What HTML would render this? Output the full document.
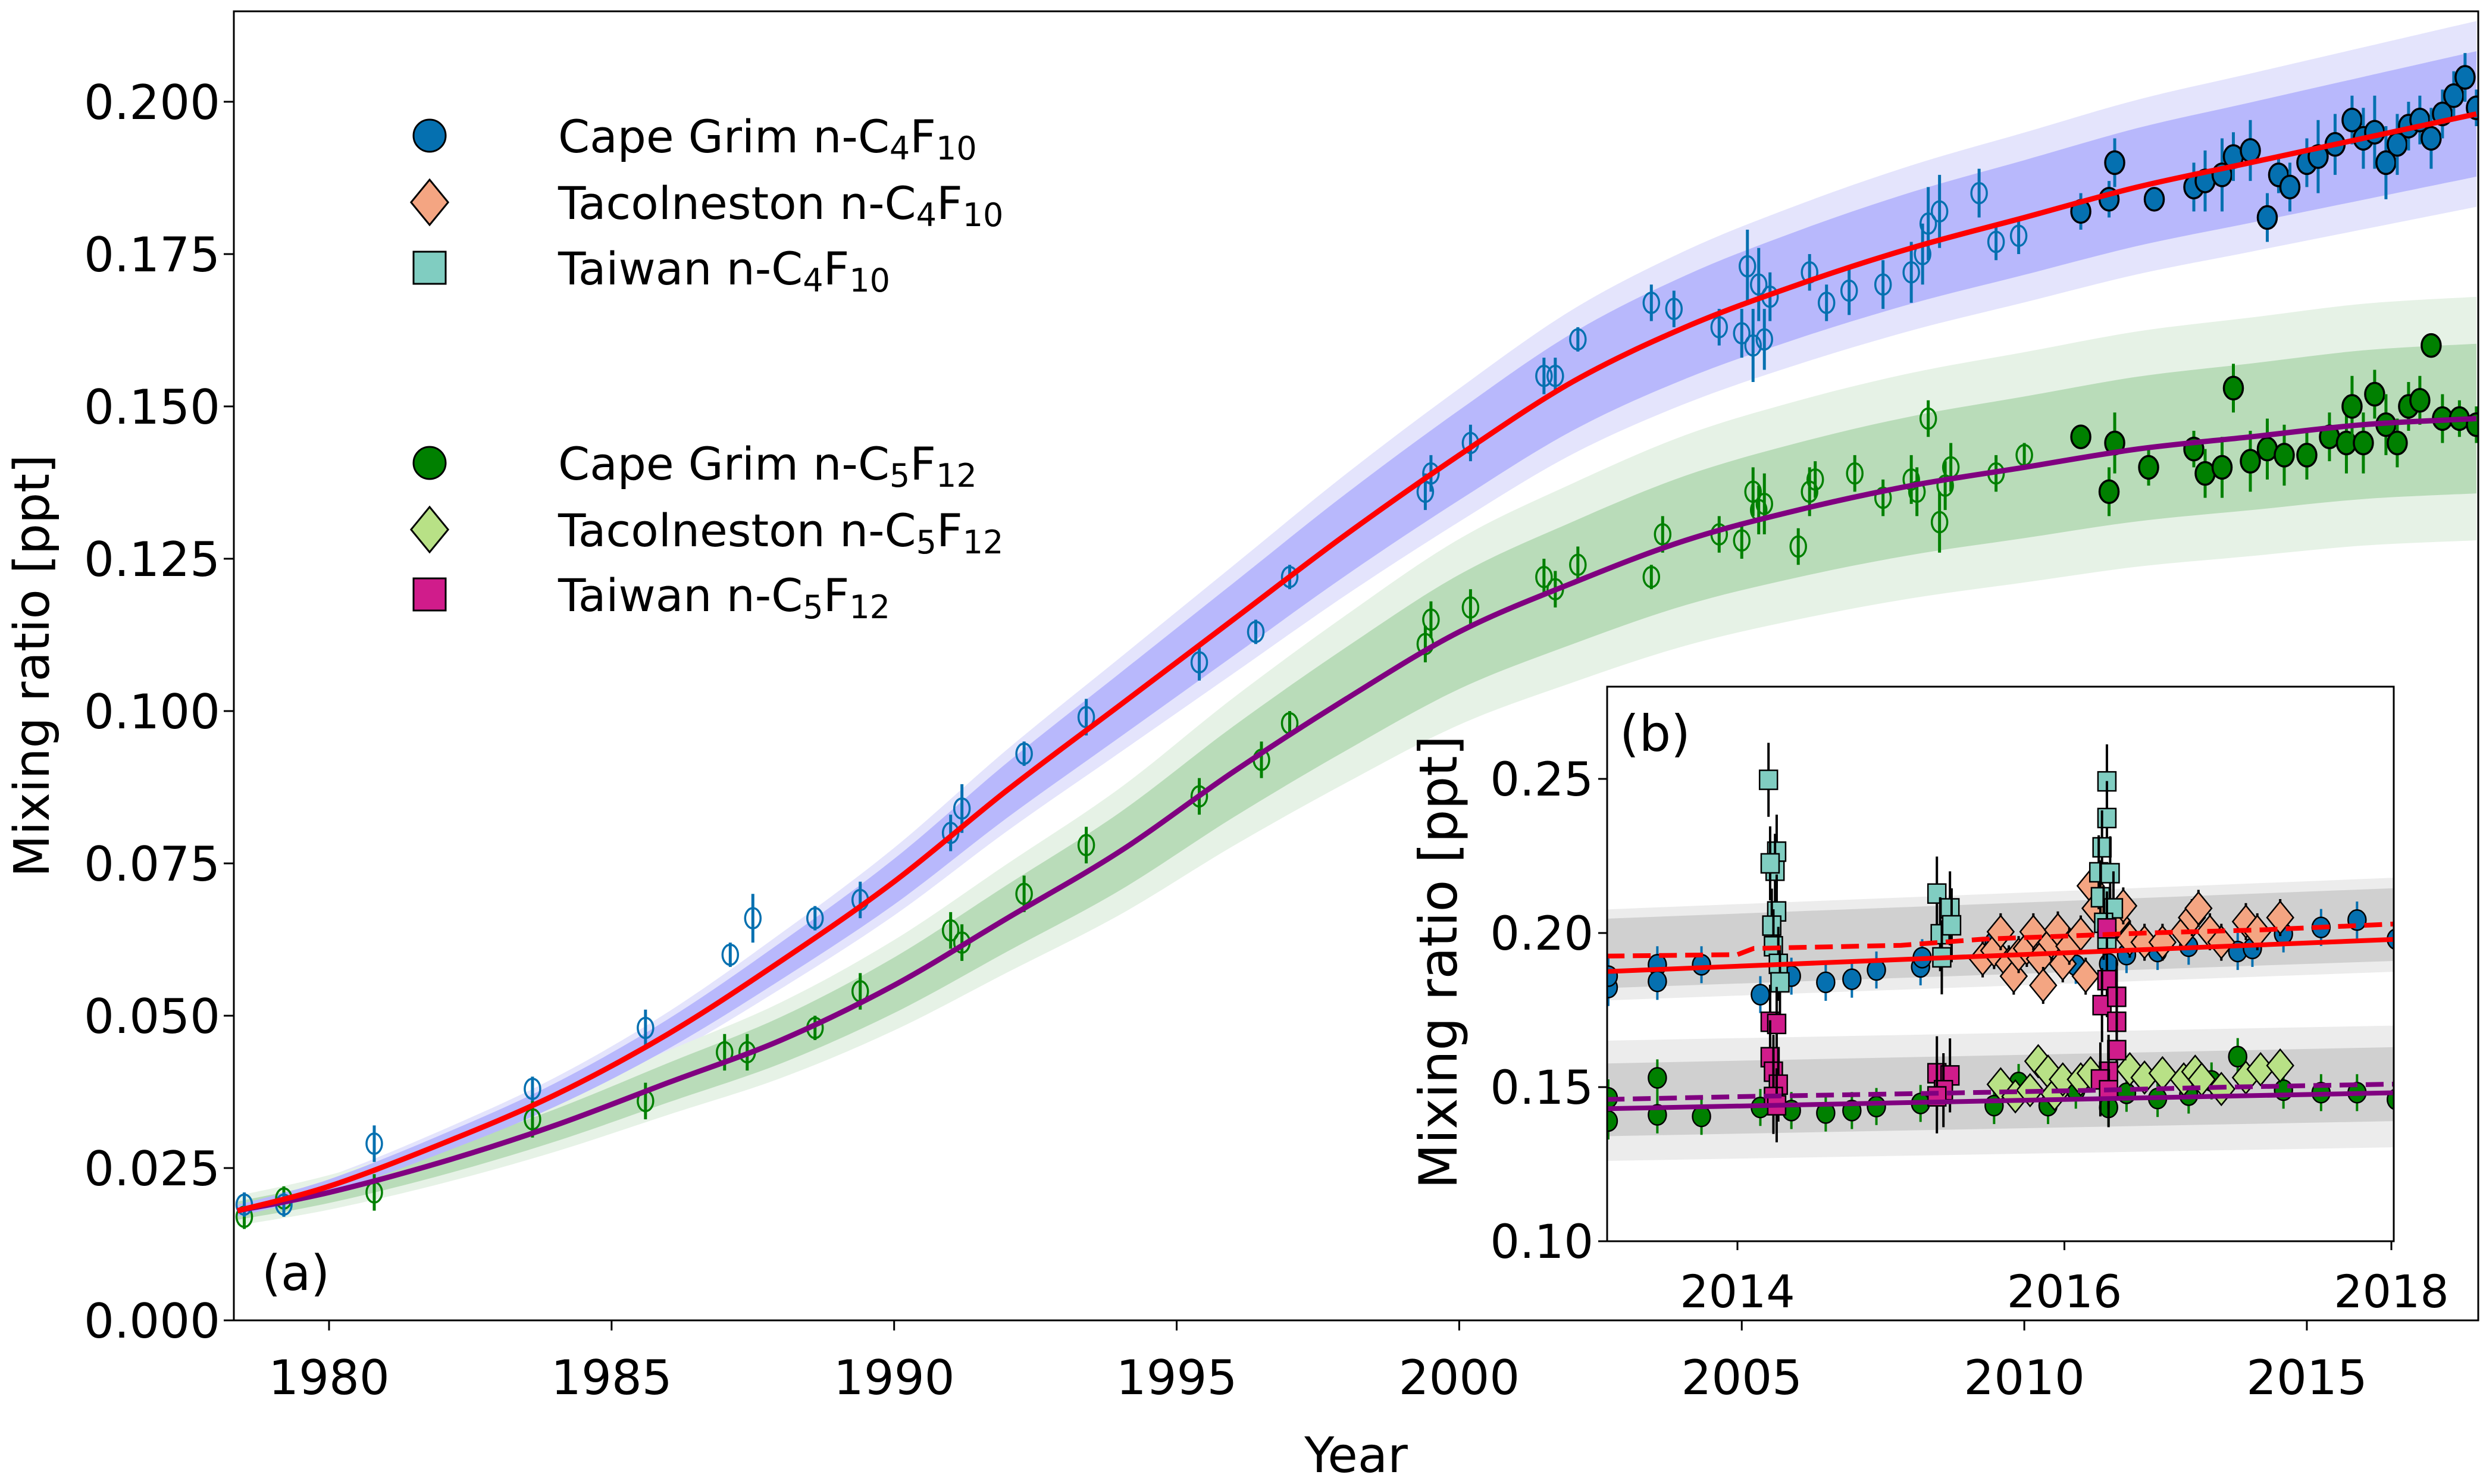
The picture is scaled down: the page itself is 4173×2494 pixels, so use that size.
<!DOCTYPE html>
<html><head><meta charset="utf-8">
<style>
html,body{margin:0;padding:0;background:#fff;}
svg{display:block;font-family:"DejaVu Sans","Liberation Sans",sans-serif;}
</style></head>
<body>
<svg id="chart" width="4173" height="2494" viewBox="0 0 4173 2494" xmlns="http://www.w3.org/2000/svg">
<defs>
<clipPath id="clipMain"><rect x="393" y="19" width="3772" height="2200"/></clipPath>
<clipPath id="clipIn"><rect x="2701" y="1154" width="1322" height="932"/></clipPath>
</defs>
<rect x="0" y="0" width="4173" height="2494" fill="#fff"/>
<g id="main"></g>
<g id="legend"></g>
<g id="inset"></g>
</svg>
<script>
// ===== Main chart data =====
const curveYears = [1978.38,1980,1982,1984,1986,1988,1990,1992,1994,1996,1998,2000,2002,2004,2006,2008,2010,2012,2014,2016,2018];
const c4Model = [0.018,0.022,0.029,0.037,0.047,0.059,0.072,0.087,0.101,0.115,0.129,0.142,0.154,0.163,0.170,0.176,0.181,0.186,0.190,0.194,0.198];
const c5Model = [0.018,0.021,0.026,0.032,0.039,0.046,0.055,0.066,0.077,0.090,0.102,0.113,0.121,0.128,0.133,0.137,0.140,0.143,0.145,0.147,0.148];
const xTicks = [1980,1985,1990,1995,2000,2005,2010,2015];
const yTicks = [0,0.025,0.05,0.075,0.1,0.125,0.15,0.175,0.2];
const yTickLabels = ["0.000","0.025","0.050","0.075","0.100","0.125","0.150","0.175","0.200"];

const c4Years = [1978.5,1979.2,1980.8,1983.6,1985.6,1987.1,1987.5,1988.6,1989.4,1991.0,1991.2,1992.3,1993.4,1995.4,1996.4,1997.0,1999.4,1999.5,2000.2,2001.5,2001.7,2002.1,2003.4,2003.8,2004.6,2005.0,2005.1,2005.2,2005.3,2005.4,2005.5,2006.2,2006.5,2006.9,2007.5,2008.0,2008.2,2008.3,2008.5,2009.2,2009.5,2009.9,
 2011.0,2011.5,2011.6,2012.3,2013.0,2013.2,2013.5,2013.7,2014.0,2014.3,2014.5,2014.7,2015.0,2015.2,2015.5,2015.8,2016.0,2016.2,2016.4,2016.6,2016.8,2017.0,2017.2,2017.4,2017.6,2017.8,2018.0];
const c4Vals = [0.019,0.019,0.029,0.038,0.048,0.060,0.066,0.066,0.069,0.080,0.084,0.093,0.099,0.108,0.113,0.122,0.136,0.139,0.144,0.155,0.155,0.161,0.167,0.166,0.163,0.162,0.173,0.160,0.170,0.161,0.168,0.172,0.167,0.169,0.170,0.172,0.175,0.180,0.182,0.185,0.177,0.178,
 0.182,0.184,0.190,0.184,0.186,0.187,0.188,0.191,0.192,0.181,0.188,0.186,0.190,0.191,0.193,0.197,0.194,0.195,0.190,0.193,0.196,0.197,0.194,0.198,0.201,0.204,0.199];
const c4Errs = [0.002,0.002,0.003,0.002,0.003,0.002,0.004,0.002,0.003,0.003,0.004,0.002,0.003,0.003,0.002,0.002,0.003,0.003,0.003,0.003,0.003,0.002,0.003,0.003,0.003,0.004,0.006,0.006,0.006,0.005,0.004,0.003,0.003,0.004,0.004,0.005,0.005,0.006,0.006,0.004,0.003,0.003,
 0.003,0.003,0.004,0.002,0.004,0.005,0.006,0.004,0.005,0.004,0.003,0.004,0.004,0.006,0.005,0.004,0.005,0.006,0.006,0.005,0.004,0.004,0.005,0.004,0.004,0.004,0.003];
const c4Filled = 42; // index from which markers are filled

const c5Years = [1978.5,1979.2,1980.8,1983.6,1985.6,1987.0,1987.4,1988.6,1989.4,1991.0,1991.2,1992.3,1993.4,1995.4,1996.5,1997.0,1999.4,1999.5,2000.2,2001.5,2001.7,2002.1,2003.4,2003.6,2004.6,2005.0,2005.2,2005.3,2005.4,2006.0,2006.2,2006.3,2007.0,2007.5,2008.0,2008.1,2008.3,2008.5,2008.6,2008.7,2009.5,2010.0,
 2011.0,2011.5,2011.6,2012.2,2013.0,2013.2,2013.5,2013.7,2014.0,2014.3,2014.6,2015.0,2015.4,2015.7,2015.8,2016.0,2016.2,2016.4,2016.6,2016.8,2017.0,2017.2,2017.4,2017.7,2018.0];
const c5Vals = [0.017,0.020,0.021,0.033,0.036,0.044,0.044,0.048,0.054,0.064,0.062,0.070,0.078,0.086,0.092,0.098,0.111,0.115,0.117,0.122,0.120,0.124,0.122,0.129,0.129,0.128,0.136,0.133,0.134,0.127,0.136,0.138,0.139,0.135,0.138,0.136,0.148,0.131,0.137,0.140,0.139,0.142,
 0.145,0.136,0.144,0.140,0.143,0.139,0.140,0.153,0.141,0.143,0.142,0.142,0.145,0.144,0.150,0.144,0.152,0.147,0.144,0.150,0.151,0.160,0.148,0.148,0.147];
const c5Errs = [0.002,0.002,0.003,0.003,0.003,0.003,0.003,0.002,0.003,0.003,0.003,0.003,0.003,0.003,0.003,0.002,0.003,0.003,0.003,0.003,0.003,0.003,0.002,0.003,0.003,0.003,0.004,0.004,0.005,0.003,0.004,0.003,0.003,0.003,0.004,0.004,0.003,0.005,0.004,0.004,0.003,0.002,
 0.002,0.004,0.005,0.003,0.003,0.004,0.005,0.004,0.005,0.005,0.005,0.004,0.004,0.005,0.005,0.005,0.004,0.005,0.004,0.004,0.004,0.002,0.004,0.003,0.003];
const c5Filled = 42;

// ===== Inset data =====
const inXTicks = [2014,2016,2018];
const inYTicks = [0.10,0.15,0.20,0.25];
const inYTickLabels = ["0.10","0.15","0.20","0.25"];
const lineYears = [2013.2,2018.05];
const redSolid = [0.1875,0.198];
const purpleSolid = [0.1430,0.1482];
const redDashYears = [2013.2,2014.0,2014.1,2015.0,2015.5,2016.5,2017.2,2018.05];
const redDashVals = [0.1925,0.193,0.195,0.196,0.198,0.200,0.201,0.203];
const purpDashYears = [2013.2,2014.1,2015.2,2016.2,2017.0,2018.05];
const purpDashVals = [0.146,0.147,0.148,0.149,0.150,0.151];
const bandUpLightLo = [0.178,0.1875], bandUpLightHi = [0.2075,0.218];
const bandUpDarkLo = [0.182,0.191], bandUpDarkHi = [0.2045,0.2146];
const bandLoLightLo = [0.126,0.1305], bandLoLightHi = [0.165,0.170];
const bandLoDarkLo = [0.134,0.139], bandLoDarkHi = [0.1576,0.163];

const cgC4Years = [2013.21,2013.21,2013.51,2013.51,2013.78,2014.14,2014.33,2014.54,2014.70,2014.85,2015.12,2015.13,2015.57,2016.07,2016.27,2016.38,2016.57,2016.76,2017.06,2017.15,2017.34,2017.57,2017.79,2018.03];
const cgC4Vals = [0.1823,0.186,0.1897,0.1843,0.1897,0.180,0.186,0.184,0.185,0.188,0.189,0.192,0.197,0.1895,0.190,0.193,0.194,0.1957,0.194,0.195,0.1997,0.2018,0.2042,0.198];
const cgC5Years = [2013.21,2013.21,2013.51,2013.51,2013.78,2014.14,2014.33,2014.54,2014.70,2014.85,2015.12,2015.57,2015.72,2015.90,2016.07,2016.27,2016.38,2016.57,2016.76,2016.90,2017.06,2017.34,2017.57,2017.79,2018.03];
const cgC5Vals = [0.1465,0.139,0.153,0.141,0.1405,0.1434,0.1424,0.1416,0.1424,0.1437,0.1447,0.144,0.1515,0.144,0.149,0.1434,0.148,0.1463,0.1474,0.152,0.1599,0.149,0.1482,0.1482,0.146];
const taC4Years = [2015.50,2015.57,2015.61,2015.66,2015.69,2015.72,2015.77,2015.81,2015.85,2015.87,2015.92,2015.96,2015.99,2016.03,2016.10,2016.13,2016.16,2016.19,2016.32,2016.36,2016.40,2016.49,2016.60,2016.73,2016.78,2016.82,2016.89,2016.96,2017.11,2017.18,2017.32];
const taC4Vals = [0.1916,0.1943,0.2004,0.190,0.186,0.193,0.195,0.2004,0.1916,0.183,0.197,0.201,0.190,0.1957,0.1997,0.186,0.2153,0.208,0.204,0.2088,0.198,0.197,0.197,0.2004,0.205,0.208,0.2004,0.197,0.2037,0.2004,0.205];
const taC5Years = [2015.61,2015.70,2015.79,2015.84,2015.90,2015.94,2015.99,2016.10,2016.16,2016.40,2016.49,2016.60,2016.73,2016.80,2016.84,2016.96,2017.11,2017.20,2017.32];
const taC5Vals = [0.1509,0.147,0.149,0.1584,0.155,0.1478,0.1525,0.1525,0.1545,0.1558,0.1531,0.1545,0.1525,0.155,0.1525,0.1494,0.1531,0.1558,0.157];
const twC4Years = [2014.19,2014.24,2014.23,2014.20,2014.24,2014.21,2014.22,2014.25,2014.26,2015.22,2015.24,2015.25,2015.30,2015.31,2016.26,2016.26,2016.23,2016.21,2016.28,2016.22,2016.30,2016.24,2016.26];
const twC4Vals = [0.2497,0.2264,0.2202,0.2226,0.207,0.2024,0.1957,0.190,0.184,0.2128,0.1996,0.1921,0.208,0.2025,0.2492,0.2373,0.2278,0.2197,0.2194,0.2116,0.208,0.2033,0.198];
const twC5Years = [2014.20,2014.24,2014.20,2014.22,2014.25,2014.22,2014.24,2015.22,2015.30,2015.26,2015.22,2016.26,2016.26,2016.23,2016.32,2016.32,2016.32,2016.27,2016.22,2016.27];
const twC5Vals = [0.1712,0.1705,0.1597,0.155,0.1508,0.1468,0.1441,0.1545,0.1538,0.149,0.147,0.2015,0.1847,0.1766,0.1793,0.1712,0.162,0.155,0.1525,0.149];

// ===== helpers =====
const NS = "http://www.w3.org/2000/svg";
function mk(parent, tag, attrs, text){
  const e = document.createElementNS(NS, tag);
  for (const k in attrs) e.setAttribute(k, attrs[k]);
  if (text !== undefined) e.textContent = text;
  parent.appendChild(e); return e;
}
const X = yr => 553 + (yr - 1980) * 94.97;
const Y = v => 2219 - v / 0.025 * 256;
const XI = yr => 2920 + (yr - 2014) * 274.75;
const YI = v => 2086 - (v - 0.10) / 0.05 * 259;

function smoothPath(xs, ys){
  let d = "M" + xs[0].toFixed(1) + "," + ys[0].toFixed(1);
  for (let i = 0; i < xs.length - 1; i++){
    const x0 = xs[Math.max(i-1,0)], y0 = ys[Math.max(i-1,0)];
    const x1 = xs[i], y1 = ys[i], x2 = xs[i+1], y2 = ys[i+1];
    const x3 = xs[Math.min(i+2,xs.length-1)], y3 = ys[Math.min(i+2,ys.length-1)];
    const c1x = x1 + (x2 - x0)/6, c1y = y1 + (y2 - y0)/6;
    const c2x = x2 - (x3 - x1)/6, c2y = y2 - (y3 - y1)/6;
    d += " C" + c1x.toFixed(1) + "," + c1y.toFixed(1) + " " + c2x.toFixed(1) + "," + c2y.toFixed(1) + " " + x2.toFixed(1) + "," + y2.toFixed(1);
  }
  return d;
}
function bandPath(years, vals, f){
  const xs = years.map(X);
  const hi = vals.map(v => Y(v*(1+f)));
  const lo = vals.map(v => Y(v*(1-f)));
  let d = smoothPath(xs, hi);
  const rx = xs.slice().reverse(), rl = lo.slice().reverse();
  d += " L" + rx[0].toFixed(1) + "," + rl[0].toFixed(1) + smoothPath(rx, rl).replace(/^M[^ ]+/, "") + " Z";
  return d;
}

// ===== Main plot =====
const main = document.getElementById("main");
const plot = mk(main, "g", {"clip-path":"url(#clipMain)"});



let e;
e = mk(plot, "path", {d: bandPath(curveYears, c4Model, 0.077), fill:"#e4e4fc"});


e = mk(plot, "path", {d: bandPath(curveYears, c5Model, 0.135), fill:"#e6f2e6"});


e = mk(plot, "path", {d: bandPath(curveYears, c5Model, 0.083), fill:"#b9dcb9"});


e = mk(plot, "path", {d: bandPath(curveYears, c4Model, 0.052), fill:"#b8b8fc"});



function drawObs(years, vals, errs, filledFrom, color, name){
  const g = mk(plot, "g", {});
  
  
  years.forEach((yr, i) => {
    const cx = X(yr), cy = Y(vals[i]);
    const l = mk(g, "line", {x1:cx, x2:cx, y1:Y(vals[i]+errs[i]), y2:Y(vals[i]-errs[i]), stroke:color, "stroke-width":5});
    
    
    let m;
    if (i >= filledFrom) m = mk(g, "ellipse", {cx:cx, cy:cy, rx:16, ry:19, fill:color, stroke:"#000", "stroke-width":3.5});
    else m = mk(g, "ellipse", {cx:cx, cy:cy, rx:13, ry:17, fill:"none", stroke:color, "stroke-width":3.5});
    
    
  });
}
drawObs(c5Years, c5Vals, c5Errs, c5Filled, "#008000", "c5f12-observations");
drawObs(c4Years, c4Vals, c4Errs, c4Filled, "#0570b0", "c4f10-observations");

e = mk(plot, "path", {d: smoothPath(curveYears.map(X), c5Model.map(Y)), fill:"none", stroke:"#800080", "stroke-width":9});


e = mk(plot, "path", {d: smoothPath(curveYears.map(X), c4Model.map(Y)), fill:"none", stroke:"#ff0000", "stroke-width":9});



// axes frame
e = mk(main, "rect", {x:393, y:19, width:3772, height:2200, fill:"none", stroke:"#000", "stroke-width":3});



xTicks.forEach(t => {
  const x = X(t);
  const l = mk(main, "line", {x1:x, x2:x, y1:2219, y2:2236, stroke:"#000", "stroke-width":3});
  
  
  const tx = mk(main, "text", {x:x, y:2343, "font-size":80, "text-anchor":"middle"}, String(t));
  
  
});
yTicks.forEach((t, i) => {
  const y = Y(t);
  const l = mk(main, "line", {x1:376, x2:393, y1:y, y2:y, stroke:"#000", "stroke-width":3});
  
  
  const tx = mk(main, "text", {x:370, y:y+29, "font-size":80, "text-anchor":"end"}, yTickLabels[i]);
  
  
});
e = mk(main, "text", {x:2279, y:2474, "font-size":82, "text-anchor":"middle"}, "Year");


e = mk(main, "text", {x:0, y:0, "font-size":82, "text-anchor":"middle", transform:"translate(82,1119) rotate(-90)"}, "Mixing ratio [ppt]");


e = mk(main, "text", {x:440, y:2168, "font-size":82}, "(a)");



// ===== Legend =====
const leg = document.getElementById("legend");
function diamond(g, cx, cy, r, fill, sw){
  return mk(g, "polygon", {points:`${cx},${cy-r} ${cx+r*0.82},${cy} ${cx},${cy+r} ${cx-r*0.82},${cy}`, fill:fill, stroke:"#000", "stroke-width":sw});
}
const legItems = [
  {y:228, shape:"c", fill:"#0570b0", label:"Cape Grim n-C", sub1:"4", mid:"F", sub2:"10", name:"legend-cape-grim-c4f10"},
  {y:340, shape:"d", fill:"#f4a582", label:"Tacolneston n-C", sub1:"4", mid:"F", sub2:"10", name:"legend-tacolneston-c4f10"},
  {y:450, shape:"s", fill:"#80cdc1", label:"Taiwan n-C", sub1:"4", mid:"F", sub2:"10", name:"legend-taiwan-c4f10"},
  {y:778, shape:"c", fill:"#008000", label:"Cape Grim n-C", sub1:"5", mid:"F", sub2:"12", name:"legend-cape-grim-c5f12"},
  {y:890, shape:"d", fill:"#b8e186", label:"Tacolneston n-C", sub1:"5", mid:"F", sub2:"12", name:"legend-tacolneston-c5f12"},
  {y:999, shape:"s", fill:"#d01c8b", label:"Taiwan n-C", sub1:"5", mid:"F", sub2:"12", name:"legend-taiwan-c5f12"}
];
legItems.forEach(it => {
  const g = mk(leg, "g", {});
  
  
  let m;
  if (it.shape === "c") m = mk(g, "circle", {cx:722, cy:it.y, r:27, fill:it.fill, stroke:"#000", "stroke-width":3});
  else if (it.shape === "d") m = diamond(g, 722, it.y, 38, it.fill, 3);
  else m = mk(g, "rect", {x:695, y:it.y-27, width:54, height:54, fill:it.fill, stroke:"#000", "stroke-width":3});
  
  
  const t = mk(g, "text", {x:938, y:it.y+28, "font-size":76});
  
  
  t.appendChild(document.createTextNode(it.label));
  mk(t, "tspan", {"font-size":54, dy:12}, it.sub1);
  mk(t, "tspan", {dy:-12}, it.mid);
  mk(t, "tspan", {"font-size":54, dy:12}, it.sub2);
});

// ===== Inset =====
const ins = document.getElementById("inset");
e = mk(ins, "rect", {x:2701, y:1154, width:1322, height:932, fill:"#fff"});


const ip = mk(ins, "g", {"clip-path":"url(#clipIn)"});


function ibBand(lo, hi, fill, name){
  const x0 = XI(lineYears[0]) - 20, x1 = XI(lineYears[1]);
  const p = mk(ip, "polygon", {points:`${x0},${YI(hi[0])} ${x1},${YI(hi[1])} ${x1},${YI(lo[1])} ${x0},${YI(lo[0])}`, fill:fill});
  
  
}
ibBand(bandUpLightLo, bandUpLightHi, "#ececec", "inset-c4f10-band-outer");
ibBand(bandUpDarkLo, bandUpDarkHi, "#d0d0d0", "inset-c4f10-band-inner");
ibBand(bandLoLightLo, bandLoLightHi, "#ececec", "inset-c5f12-band-outer");
ibBand(bandLoDarkLo, bandLoDarkHi, "#d0d0d0", "inset-c5f12-band-inner");

function iPts(years, vals, shape, fill, errColor, err, name){
  const g = mk(ip, "g", {});
  
  
  years.forEach((yr, i) => {
    const cx = XI(yr), cy = YI(vals[i]);
    const l = mk(g, "line", {x1:cx, x2:cx, y1:YI(vals[i]+err), y2:YI(vals[i]-err), stroke:errColor, "stroke-width":4});
    
    
    let m;
    if (shape === "c") m = mk(g, "ellipse", {cx:cx, cy:cy, rx:15, ry:17, fill:fill, stroke:"#000", "stroke-width":2.5});
    else if (shape === "d") m = diamond(g, cx, cy, 27, fill, 2.5);
    else m = mk(g, "rect", {x:cx-15, y:cy-16, width:30, height:32, fill:fill, stroke:"#000", "stroke-width":2.5});
    
    
  });
}
iPts(cgC5Years, cgC5Vals, "c", "#008000", "#008000", 0.006, "inset-cape-grim-c5f12");
iPts(cgC4Years, cgC4Vals, "c", "#0570b0", "#0570b0", 0.006, "inset-cape-grim-c4f10");
iPts(taC5Years, taC5Vals, "d", "#b8e186", "#000", 0.005, "inset-tacolneston-c5f12");
iPts(taC4Years, taC4Vals, "d", "#f4a582", "#000", 0.006, "inset-tacolneston-c4f10");
iPts(twC4Years, twC4Vals, "s", "#80cdc1", "#000", 0.012, "inset-taiwan-c4f10");
iPts(twC5Years, twC5Vals, "s", "#d01c8b", "#000", 0.012, "inset-taiwan-c5f12");

function iLine(ys, vs, color, dash, name){
  const pts = ys.map((y,i) => XI(y).toFixed(1) + "," + YI(vs[i]).toFixed(1)).join(" ");
  const attrs = {points:pts, fill:"none", stroke:color, "stroke-width":8};
  if (dash) attrs["stroke-dasharray"] = "30,14";
  const p = mk(ip, "polyline", attrs);
  
  
}
iLine(redDashYears, redDashVals, "#ff0000", true, "inset-c4f10-dashed-line");
iLine(purpDashYears, purpDashVals, "#800080", true, "inset-c5f12-dashed-line");
iLine(lineYears, redSolid, "#ff0000", false, "inset-c4f10-line");
iLine(lineYears, purpleSolid, "#800080", false, "inset-c5f12-line");

e = mk(ins, "rect", {x:2701, y:1154, width:1322, height:932, fill:"none", stroke:"#000", "stroke-width":3});


inXTicks.forEach(t => {
  const x = XI(t);
  const l = mk(ins, "line", {x1:x, x2:x, y1:2086, y2:2101, stroke:"#000", "stroke-width":3});
  
  
  const tx = mk(ins, "text", {x:x, y:2197, "font-size":76, "text-anchor":"middle"}, String(t));
  
  
});
inYTicks.forEach((t, i) => {
  const y = YI(t);
  const l = mk(ins, "line", {x1:2686, x2:2701, y1:y, y2:y, stroke:"#000", "stroke-width":3});
  
  
  const tx = mk(ins, "text", {x:2678, y:y+28, "font-size":78, "text-anchor":"end"}, inYTickLabels[i]);
  
  
});
e = mk(ins, "text", {x:0, y:0, "font-size":88, "text-anchor":"middle", transform:"translate(2448,1617) rotate(-90)"}, "Mixing ratio [ppt]");


e = mk(ins, "text", {x:2722, y:1262, "font-size":84}, "(b)");


</script>
</body></html>
